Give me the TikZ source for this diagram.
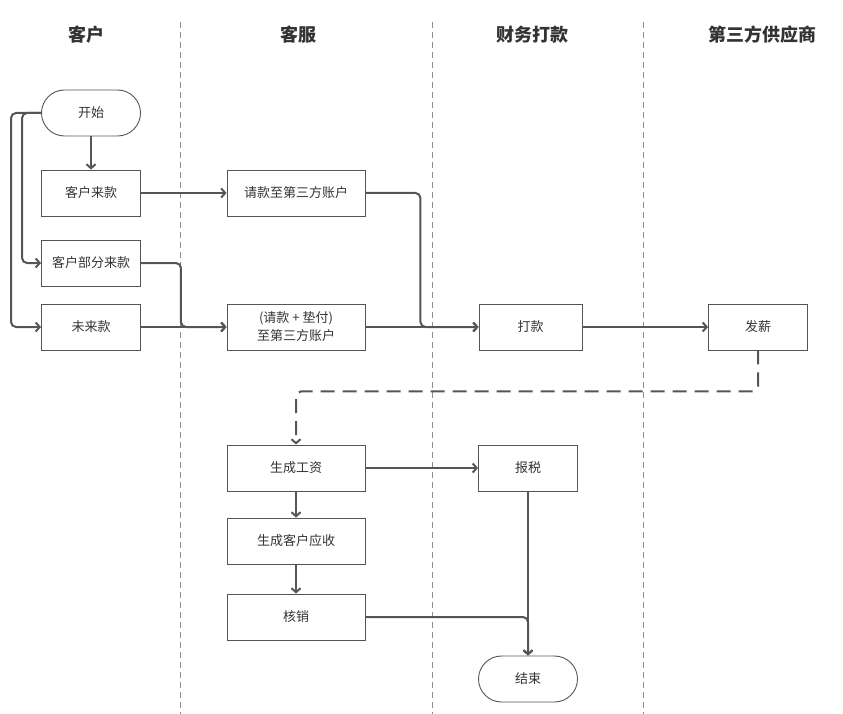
\documentclass[tikz,border=0pt]{standalone}
\usepackage{fontspec}
\setmainfont{Noto Sans CJK SC}
\usepackage{tikz}
\usetikzlibrary{positioning}
\usetikzlibrary{arrows.meta}
\definecolor{linegray}{HTML}{555555}
\definecolor{lanegray}{HTML}{8C8C8C}
\definecolor{textgray}{HTML}{333333}
\tikzset{
    every picture/.style={>={Straight Barb[length=4pt,width=9pt]},x=1pt,y=-1pt},
}
\begin{document}
\begin{tikzpicture}[box/.style={draw=linegray,line width=0.9pt,minimum width=99pt,minimum height=46pt,inner sep=0pt,text=textgray,font=\fontsize{13}{18}\selectfont,align=center},
wide/.style={box,minimum width=138pt},
terminal/.style={box,rounded corners=23pt},
lane/.style={lanegray,dash pattern=on 6pt off 4pt,line width=0.8pt},
flow/.style={linegray,line width=2pt,->,rounded corners=5pt},
dashflow/.style={flow,dash pattern=on 14pt off 8pt},
header/.style={font=\fontsize{18}{22}\selectfont\bfseries,text=textgray}]
\useasboundingbox (0,0) rectangle (843,714);
\foreach \x in {180,432,643} \draw[lane] (\x,22) -- (\x,714);

\node[header] (hcust) at (86,35) {客户};
\node[header] (hserv) at (298,35) {客服};
\node[header] (hfin) at (532,35) {财务打款};
\node[header] (hsup) at (762,35) {第三方供应商};

\node[terminal] (start) at (91,113) {开始};
\node[box] (pay) at (91,193) {客户来款};
\node[box] (part) at (91,263) {客户部分来款};
\node[box] (nopay) at (91,327) {未来款};
\node[wide] (req) at (296,193) {请款至第三方账户};
\node[wide] (adv) at (296,327) {(请款 + 垫付)\\至第三方账户};
\node[box,minimum width=103pt] (remit) at (530.5,327) {打款};
\node[box] (salary) at (758,327) {发薪};
\node[wide] (wage) at (296,468) {生成工资};
\node[box] (tax) at (528,468) {报税};
\node[wide] (recv) at (296,541) {生成客户应收};
\node[wide] (write) at (296,617) {核销};
\node[terminal] (end) at (528,679) {结束};

\draw[flow] (start) -- (pay);
\draw[flow] (start.west) -- ++(-30,0) |- (nopay.west);
\draw[flow] (start.west) -- ++(-19,0) |- (part.west);
\draw[flow] (pay) -- (req);
\draw[flow] (part.east) -- ++(40,0) |- (adv.west);
\draw[flow] (nopay) -- (adv);
\draw[flow] (req.east) -- ++(55,0) |- (remit.west);
\draw[flow] (adv) -- (remit);
\draw[flow] (remit) -- (salary);
\draw[dashflow] (salary.south) -- ++(0,41) -| (wage.north);
\draw[flow] (wage) -- (tax);
\draw[flow] (wage) -- (recv);
\draw[flow] (recv) -- (write);
\draw[flow] (tax) -- (end);
\draw[flow] (write.east) -| (end.north);
\end{tikzpicture}
\end{document}
